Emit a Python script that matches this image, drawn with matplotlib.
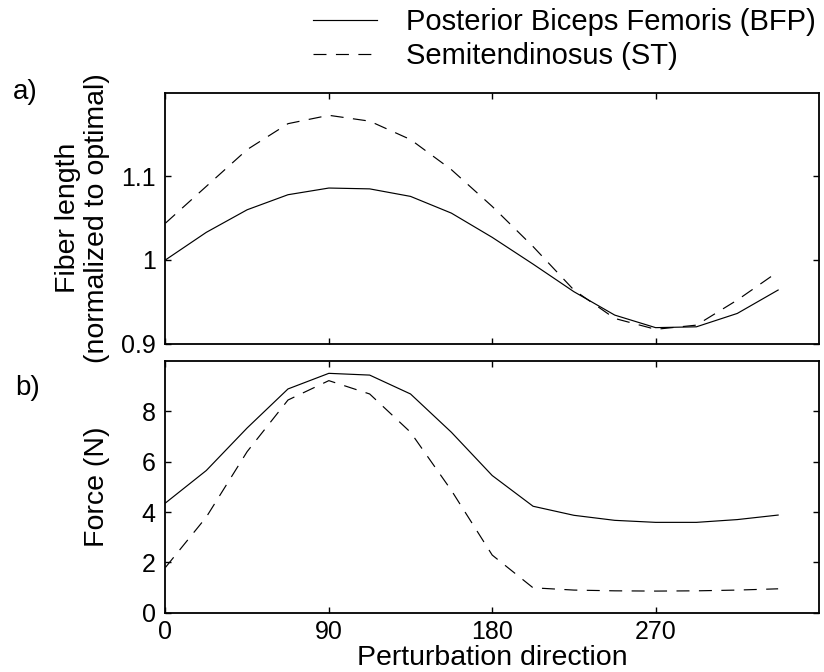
import numpy as np
import matplotlib
matplotlib.use("Agg")
import matplotlib.pyplot as plt

plt.rcParams['font.family'] = ['Liberation Sans', 'DejaVu Sans']

# perturbation directions (deg)
direction = [0, 22.5, 45, 67.5, 90, 112.5, 135, 157.5, 180, 202.5, 225,
             247.5, 270, 292.5, 315, 337.5]

# a) fiber length, normalized to optimal
len_bfp = [1.000, 1.033, 1.060, 1.078, 1.086, 1.085, 1.076, 1.056, 1.027,
           0.995, 0.962, 0.934, 0.919, 0.920, 0.936, 0.964]
len_st = [1.044, 1.088, 1.132, 1.163, 1.173, 1.166, 1.144, 1.108, 1.064,
          1.016, 0.964, 0.930, 0.917, 0.922, 0.952, 0.986]

# b) force (N)
force_bfp = [4.36, 5.65, 7.34, 8.89, 9.51, 9.44, 8.69, 7.17, 5.45, 4.23,
             3.87, 3.67, 3.59, 3.59, 3.70, 3.88]
force_st = [1.80, 3.80, 6.40, 8.45, 9.22, 8.69, 7.17, 4.86, 2.29, 0.99,
            0.90, 0.87, 0.86, 0.87, 0.90, 0.95]

labels = ['Posterior Biceps Femoris (BFP)', 'Semitendinosus (ST)']
xticks = [0, 90, 180, 270]

fig = plt.figure(figsize=(8.24, 6.72), dpi=100)
ax1 = fig.add_axes([0.2008, 0.4888, 0.7931, 0.3732])
ax2 = fig.add_axes([0.2008, 0.0882, 0.7931, 0.3746])

lw = 0.85
dash = (11, 8)

h1, = ax1.plot(direction, len_bfp, color='k', lw=lw)
h2, = ax1.plot(direction, len_st, color='k', lw=lw, ls='--', dashes=dash)
ax2.plot(direction, force_bfp, color='k', lw=lw)
ax2.plot(direction, force_st, color='k', lw=lw, ls='--', dashes=dash)

ax1.set_ylim(0.9, 1.2)
ax1.set_yticks([0.9, 1.0, 1.1])
ax1.set_yticklabels(['0.9', '1', '1.1'])
ax1.set_ylabel('Fiber length\n(normalized to optimal)', fontsize=20.5,
               linespacing=1.15)

ax2.set_ylim(0, 10)
ax2.set_yticks([0, 2, 4, 6, 8])
ax2.set_ylabel('Force (N)', fontsize=20.5)
ax2.set_xlabel('Perturbation direction', fontsize=20.5)

for ax in (ax1, ax2):
    ax.set_xlim(0, 360)
    ax.set_xticks(xticks)
    ax.tick_params(direction='in', length=4.5, width=1.0, top=True,
                   right=True, labelsize=18, pad=5.5)
    ax.tick_params(axis='y', pad=7)
    for s in ax.spines.values():
        s.set_linewidth(1.3)
    ax.yaxis.set_label_coords(-0.085, 0.5)

ax1.tick_params(labelbottom=False)
ax2.xaxis.set_label_coords(0.5, -0.13)

fig.text(0.016, 0.863, 'a)', fontsize=20, va='center', ha='left')
fig.text(0.018, 0.423, 'b)', fontsize=20, va='center', ha='left')

fig.legend([h1, h2], labels, loc='upper right',
           bbox_to_anchor=(0.997, 0.997), frameon=False, fontsize=21,
           handlelength=2.2, handletextpad=1.0, labelspacing=0.22,
           borderpad=0.2, borderaxespad=0)

fig.savefig('out.png', dpi=100)
